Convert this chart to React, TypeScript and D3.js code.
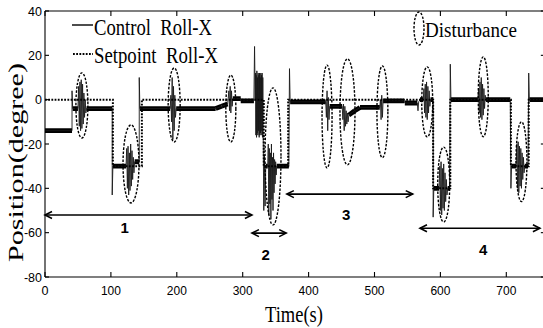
import React from 'react';
import * as d3 from 'd3';

const W = 543;
const H = 328;

// Axis ticks
const xTicks = [0, 100, 200, 300, 400, 500, 600, 700];
const yTicks = [40, 20, 0, -20, -40, -60, -80];

// Setpoint roll angle (step changes), time in s, value in degrees
const setpointTime = [0, 103, 147, 332, 369, 589, 615, 707, 734, 760];
const setpointValue = [0, -30, 0, -30, 0, -40, 0, -30, 0, 0];

// Measured roll angle [time (s), position (deg)]
const controlSamples: [number, number][] = [
  [0, -14], [41, -14], [41, 4], [42, -4], [50, -4],
  [51, 6], [52, -12], [53, 8], [54, -14], [55, 9], [56, -13], [57, 7], [58, -11], [59, 3], [60, -8], [61, 0], [62, -6], [63, -4],
  [102, -4], [102, -43], [103, -30], [123, -30],
  [124, -22], [125, -40], [126, -21], [127, -43], [128, -24], [129, -41], [130, -20], [131, -39], [132, -23], [133, -36], [134, -26], [135, -33], [136, -28],
  [143, -28], [143, 10], [144, -4], [190, -4],
  [191, 2], [192, -10], [193, 10], [194, -18], [195, 6], [196, -14], [197, 2], [198, -8], [199, -4],
  [259, -4], [268, -3], [277, -2], [278, 0.5],
  [279, 4], [280, -5], [281, 6], [282, -6], [283, 4], [284, -3], [285, 0.5],
  [297, 0.5], [297, -0.5], [317, -0.5], [318, 24], [319, -0.5],
  [319.5, 12], [320, -16], [320.5, 11], [321, -17], [321.5, 13], [322, -15], [322.5, 10], [323, -16], [323.5, 12], [324, -14],
  [324.5, 11], [325, -17], [325.5, 12], [326, -16], [326.5, 10], [327, -15], [327.5, 12], [328, -16], [328.5, 11], [329, -14],
  [329.5, 12], [330, -17], [330.5, 10], [331, -12],
  [332, -50], [333, -25], [334, -48], [335, -30], [338, -30],
  [338.8, -20], [339.6, -52], [340.4, -22], [341.2, -47], [342, -24], [342.8, -54], [343.6, -20], [344.4, -45], [345.2, -26],
  [346, -50], [346.8, -24], [347.6, -42], [348.4, -27], [349.2, -38], [350, -28], [350.8, -34], [351.6, -30],
  [370, -30], [371, 14], [372, -1], [426, -1],
  [427, -8], [428, 4], [429, -14], [430, 1], [431, -9], [432, -3],
  [451, -3], [452, -9],
  [453, -2], [454, -14], [455, -3], [456, -12], [457, -5], [458, -11], [459, -6], [460, -10], [461, -7],
  [470, -5], [478, -3.5], [508, -3.5],
  [509, 0], [510, -9], [511, 2], [512, -8], [513, -0.5],
  [545, -0.5], [546, -1.5], [565, -1.5], [566, -5], [567, -1], [569, 0], [574, 0],
  [575, 5], [576, -6], [577, 7], [578, -8], [579, 8], [580, -9], [581, 6], [582, -6], [583, 4], [584, -3], [585, 0],
  [589, 0], [589, -53], [590, -40], [598, -40],
  [599, -30], [600, -50], [601, -28], [602, -52], [603, -31], [604, -49], [605, -29], [606, -50], [607, -33], [608, -46], [609, -36], [610, -43], [611, -40],
  [614, -40], [615, 16], [616, 0], [657, 0],
  [658, 5], [659, -6], [660, 8], [661, -8], [662, 10], [663, -9], [664, 7], [665, -7], [666, 5], [667, -4], [668, 2], [669, 0],
  [706, 0], [707, -40], [708, -30], [715, -30],
  [716, -20], [717, -40], [718, -19], [719, -42], [720, -21], [721, -39], [722, -22], [723, -40], [724, -24], [725, -36], [726, -26], [727, -33], [728, -30],
  [733, -30], [734, 12], [735, 0], [760, 0],
];

// Disturbance windows (ellipses): centre time/value and half extents
const disturbanceTime = [56, 130.5, 196, 282, 346, 428, 459, 512, 580, 605, 665, 723];
const disturbanceValue = [-2.6, -29, -2.4, -4, -25.6, -7.6, -5.5, -5.5, -1, -38.3, 1.3, -28];
const disturbanceHalfWidth = [9.1, 12.1, 9.1, 7.6, 12.1, 7.6, 11.4, 8.3, 8.3, 9.1, 7.6, 8.3];
const disturbanceHalfHeight = [14.7, 17.6, 16.7, 15.1, 30.9, 23.2, 23.9, 20.7, 15.8, 16.9, 18, 18];

// Test phases
const phaseLabels = ['1', '2', '3', '4'];
const phaseStart = [0, 314, 367, 569];
const phaseEnd = [314, 366, 558, 751];
const phaseLevel = [-52, -60.2, -42.6, -58];
const phaseLabelTime = [121, 335, 457, 665];
const phaseLabelLevel = [-60.2, -72.4, -54.3, -70];

const SERIF = '"Liberation Serif", "Times New Roman", serif';
const SANS = '"Liberation Sans", Arial, sans-serif';

export default function App() {
  const x = d3.scaleLinear().domain([0, 760]).range([45, 45 + 760 * 0.659]);
  const y = d3.scaleLinear().domain([-80, 40]).range([277, 11]);
  const left = x(0);
  const right = x(760);
  const top = y(40);
  const bottom = y(-80);

  const line = d3
    .line<[number, number]>()
    .x((d) => x(d[0]))
    .y((d) => y(d[1]));

  const setpointPts: [number, number][] = setpointTime.map((t, i) => [t, setpointValue[i]]);
  const stepLine = d3
    .line<[number, number]>()
    .x((d) => x(d[0]))
    .y((d) => y(d[1]))
    .curve(d3.curveStepAfter);

  // steady stretches of the trace carry sensor noise: draw them as a thick band
  const bands: [number, number][][] = [];
  for (let i = 0; i < controlSamples.length - 1; i++) {
    const a = controlSamples[i];
    const b = controlSamples[i + 1];
    if (b[0] - a[0] >= 2.5 && Math.abs(b[1] - a[1]) <= 2.5) bands.push([a, b]);
  }

  const arrowHead = (px: number, py: number, dir: number) =>
    `M${px + dir * 7},${py - 3.5} L${px},${py} L${px + dir * 7},${py + 3.5}`;

  return (
    <svg
      width={W}
      height={H}
      style={{ position: 'absolute', left: 0, top: 0, background: '#fff' }}
      xmlns="http://www.w3.org/2000/svg"
    >
      <rect x={0} y={0} width={W} height={H} fill="#fff" />
      <defs>
        <clipPath id="plot">
          <rect x={left} y={top} width={right - left} height={bottom - top} />
        </clipPath>
      </defs>

      <g clipPath="url(#plot)">
        {bands.map((seg, i) => (
          <path key={'b' + i} d={line(seg) || ''} stroke="#000" strokeWidth={4.8} fill="none" />
        ))}
        <path d={line(controlSamples) || ''} stroke="#1a1a1a" strokeWidth={0.9} fill="none" />
        <path
          d={stepLine(setpointPts) || ''}
          stroke="#000"
          strokeWidth={2}
          strokeDasharray="1.8 1.4"
          fill="none"
        />
        {disturbanceTime.map((t, i) => (
          <ellipse
            key={'e' + i}
            cx={x(t)}
            cy={y(disturbanceValue[i])}
            rx={x(disturbanceHalfWidth[i]) - x(0)}
            ry={y(0) - y(disturbanceHalfHeight[i])}
            fill="none"
            stroke="#000"
            strokeWidth={1.4}
            strokeDasharray="2.5 1.5"
          />
        ))}
      </g>

      {/* frame */}
      <g stroke="#000" strokeWidth={1.1} fill="none">
        <line x1={left} y1={top} x2={left} y2={bottom} />
        <line x1={left} y1={bottom} x2={right} y2={bottom} />
        <line x1={left} y1={top} x2={right} y2={top} />
        <line x1={right} y1={top} x2={right} y2={bottom} />
        {xTicks.map((t) => (
          <g key={'xt' + t}>
            <line x1={x(t)} y1={bottom} x2={x(t)} y2={bottom - 5} />
            <line x1={x(t)} y1={top} x2={x(t)} y2={top + 5} />
          </g>
        ))}
        {yTicks.map((v) => (
          <g key={'yt' + v}>
            <line x1={left} y1={y(v)} x2={left + 4} y2={y(v)} />
            <line x1={right} y1={y(v)} x2={right - 5} y2={y(v)} />
          </g>
        ))}
      </g>

      {xTicks.map((t) => (
        <text
          key={'xl' + t}
          x={x(t)}
          y={bottom + 18}
          fontFamily={SANS}
          fontSize={13.5}
          textAnchor="middle"
          textLength={t === 0 ? 7 : 20}
          lengthAdjust="spacingAndGlyphs"
        >
          {t}
        </text>
      ))}
      {yTicks.map((v) => (
        <text
          key={'yl' + v}
          x={left - 3}
          y={y(v) + 4.5}
          fontFamily={SANS}
          fontSize={12.5}
          textAnchor="end"
        >
          {v}
        </text>
      ))}

      <text
        x={294}
        y={322}
        fontFamily={SERIF}
        fontSize={24}
        textAnchor="middle"
        textLength={58}
        lengthAdjust="spacingAndGlyphs"
      >
        Time(s)
      </text>
      <text
        transform="translate(23,162.5) rotate(-90)"
        fontFamily={SERIF}
        fontSize={21}
        textAnchor="middle"
        textLength={199}
        lengthAdjust="spacingAndGlyphs"
      >
        Position(degree)
      </text>

      {/* phase arrows */}
      <g stroke="#000" strokeWidth={1.6} fill="none">
        {phaseStart.map((s, i) => {
          const py = y(phaseLevel[i]);
          const x1 = x(s);
          const x2 = x(phaseEnd[i]);
          return (
            <g key={'a' + i}>
              <line x1={x1} y1={py} x2={x2} y2={py} />
              <path d={arrowHead(x1, py, 1)} />
              <path d={arrowHead(x2, py, -1)} />
            </g>
          );
        })}
      </g>
      {phaseLabels.map((l, i) => (
        <text
          key={'pl' + i}
          x={x(phaseLabelTime[i])}
          y={y(phaseLabelLevel[i])}
          fontFamily={SANS}
          fontWeight="bold"
          fontSize={15}
          textAnchor="middle"
        >
          {l}
        </text>
      ))}

      {/* legend */}
      <line x1={72} y1={25} x2={93} y2={25} stroke="#000" strokeWidth={1.4} />
      <text x={94} y={35} fontFamily={SERIF} fontSize={24} textLength={118} lengthAdjust="spacingAndGlyphs">
        {'Control\u00A0\u00A0Roll-X'}
      </text>
      <line x1={73} y1={54} x2={93} y2={54} stroke="#000" strokeWidth={2} strokeDasharray="1.8 1.4" />
      <text x={94} y={63} fontFamily={SERIF} fontSize={24} textLength={124} lengthAdjust="spacingAndGlyphs">
        {'Setpoint\u00A0\u00A0Roll-X'}
      </text>
      <ellipse cx={419} cy={28.5} rx={5} ry={16.5} fill="none" stroke="#000" strokeWidth={1.4} strokeDasharray="2.5 1.5" />
      <text x={425} y={37} fontFamily={SERIF} fontSize={20} textLength={92} lengthAdjust="spacingAndGlyphs">
        Disturbance
      </text>
    </svg>
  );
}
